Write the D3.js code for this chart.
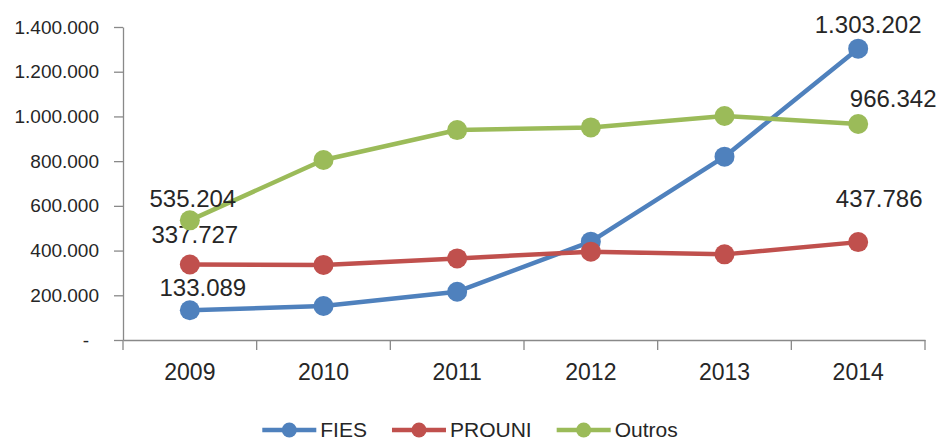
<!DOCTYPE html>
<html>
<head>
<meta charset="utf-8">
<script src="https://cdn.jsdelivr.net/npm/d3@7"></script>
<style>
  body { margin: 0; background: #fff; }
  svg text { font-family: "Liberation Sans", Arial, sans-serif; fill: #262626; }
</style>
</head>
<body>
<svg id="chart"></svg>
<script>
// data
const years = ["2009", "2010", "2011", "2012", "2013", "2014"];
const seriesNames = ["FIES", "PROUNI", "Outros"];
const fies = [133089, 152000, 216000, 440000, 820000, 1303202];
const prouni = [337727, 336000, 365000, 395000, 383000, 437786];
const outros = [535204, 805000, 939000, 951000, 1002000, 966342];
const yTicks = [0, 200000, 400000, 600000, 800000, 1000000, 1200000, 1400000];
// which points carry a value label
const labelled = [0, 5];

const colors = { FIES: "#4f81bd", PROUNI: "#c0504d", Outros: "#9bbb59" };
// label nudges (dx, dy from point centre) as placed in the original
const labelNudge = {
  FIES: [[13, -14], [10, -16]],
  PROUNI: [[5, -21], [21, -35]],
  Outros: [[3, -13], [35, -17]]
};

const config = {
  width: 939,
  height: 441,
  margin: { top: 27, right: 14, bottom: 101, left: 123 }
};

const ptFormat = d3.formatLocale({ decimal: ",", thousands: ".", grouping: [3], currency: ["", ""] }).format(",d");

const svg = d3.select("#chart")
  .attr("width", config.width)
  .attr("height", config.height);

const innerW = config.width - config.margin.left - config.margin.right;
const innerH = config.height - config.margin.top - config.margin.bottom;

const g = svg.append("g")
  .attr("transform", `translate(${config.margin.left},${config.margin.top})`);

const xScale = d3.scaleBand()
  .domain(years)
  .range([0, innerW])
  .padding(0);

const yScale = d3.scaleLinear()
  .domain([0, 1400000])
  .range([innerH, 0]);

// y axis
const yAxis = d3.axisLeft(yScale)
  .tickValues(yTicks)
  .tickSize(9)
  .tickSizeOuter(0)
  .tickPadding(15)
  .tickFormat(d => d === 0 ? "-" : ptFormat(d));

const yAxisG = g.append("g").attr("class", "axis y-axis").call(yAxis);
yAxisG.select(".domain").attr("stroke", "#898989").attr("stroke-width", 1.3);
yAxisG.selectAll(".tick line").attr("stroke", "#898989").attr("stroke-width", 1.3);
yAxisG.selectAll(".tick text")
  .style("font-size", "19px")
  .attr("fill", "#262626")
  .attr("dx", d => d === 0 ? -10 : 0);

// x axis: labels centred in bands, ticks on band edges
const xAxis = d3.axisBottom(xScale).tickSize(0).tickSizeOuter(0).tickPadding(24);
const xAxisG = g.append("g")
  .attr("class", "axis x-axis")
  .attr("transform", `translate(0,${innerH})`)
  .call(xAxis);
xAxisG.select(".domain").attr("stroke", "#898989").attr("stroke-width", 1.3);
xAxisG.selectAll(".tick text").style("font-size", "23px").attr("fill", "#262626");

const edges = years.map(d => xScale(d)).concat([xScale(years[years.length - 1]) + xScale.bandwidth()]);
xAxisG.selectAll(".edge")
  .data(edges)
  .join("line")
  .attr("class", "edge")
  .attr("x1", d => d).attr("x2", d => d)
  .attr("y1", 0).attr("y2", 10)
  .attr("stroke", "#898989")
  .attr("stroke-width", 1.3);

// series
const series = [
  { name: "FIES", values: fies },
  { name: "PROUNI", values: prouni },
  { name: "Outros", values: outros }
];

const line = d3.line()
  .x((d, i) => xScale(years[i]) + xScale.bandwidth() / 2)
  .y(d => yScale(d));

const seriesG = g.selectAll(".series")
  .data(series)
  .join("g")
  .attr("class", "series");

seriesG.append("path")
  .attr("fill", "none")
  .attr("stroke", d => colors[d.name])
  .attr("stroke-width", 4.5)
  .attr("stroke-linejoin", "round")
  .attr("d", d => line(d.values));

seriesG.selectAll("circle")
  .data(d => d.values.map((v, i) => ({ v, i, name: d.name })))
  .join("circle")
  .attr("cx", d => xScale(years[d.i]) + xScale.bandwidth() / 2)
  .attr("cy", d => yScale(d.v))
  .attr("r", 10)
  .attr("fill", d => colors[d.name]);

// value labels on first and last points
seriesG.selectAll(".val")
  .data(d => labelled.map((idx, k) => ({ v: d.values[idx], i: idx, nudge: labelNudge[d.name][k] })))
  .join("text")
  .attr("class", "val")
  .attr("x", d => xScale(years[d.i]) + xScale.bandwidth() / 2 + d.nudge[0])
  .attr("y", d => yScale(d.v) + d.nudge[1])
  .attr("text-anchor", "middle")
  .style("font-size", "24px")
  .attr("fill", "#1a1a1a")
  .text(d => ptFormat(d.v));

// legend, centred under the chart
const legend = svg.append("g").attr("class", "legend");
const items = legend.selectAll(".item")
  .data(seriesNames)
  .join("g")
  .attr("class", "item");

items.append("line")
  .attr("x1", 0).attr("x2", 54)
  .attr("y1", 0).attr("y2", 0)
  .attr("stroke", d => colors[d])
  .attr("stroke-width", 4.5);
items.append("circle")
  .attr("cx", 27).attr("cy", 0).attr("r", 7.5)
  .attr("fill", d => colors[d]);
items.append("text")
  .attr("x", 58)
  .attr("y", 7)
  .style("font-size", "21px")
  .attr("fill", "#262626")
  .text(d => d);

let offset = 0;
items.each(function () {
  const w = 58 + this.querySelector("text").getComputedTextLength();
  d3.select(this).attr("transform", `translate(${offset},0)`);
  offset += w + 25;
});
const totalW = offset - 25;
legend.attr("transform", `translate(${470 - totalW / 2},430)`);
</script>
</body>
</html>
